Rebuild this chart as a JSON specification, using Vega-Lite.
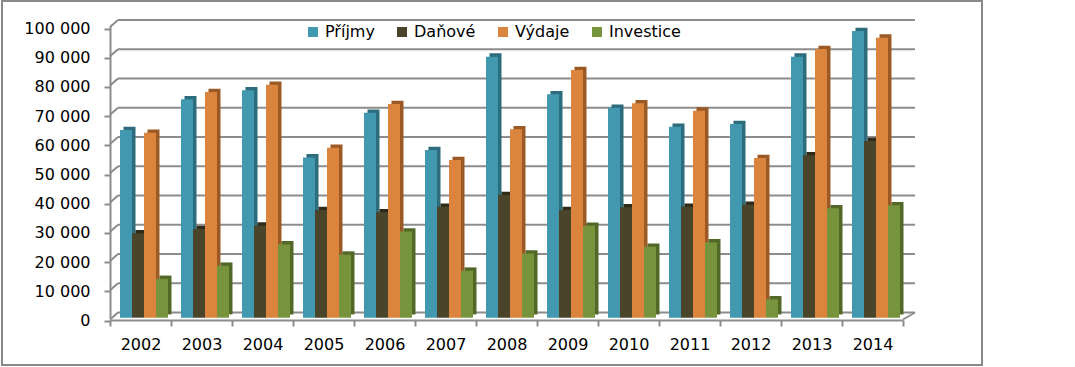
{
  "$schema": "https://vega.github.io/schema/vega-lite/v6.json",
  "width": 980,
  "height": 364,
  "autosize": {"type": "none"},
  "padding": {"left": 2, "top": 1, "right": 93, "bottom": 2},
  "background": "white",
  "config": {"view": {"stroke": "#898989", "strokeWidth": 2}, "font": "DejaVu Sans"},
  "datasets": {
    "bars": [
      {"rok": "2002", "serie": "Příjmy", "hodnota": 64300}, {"rok": "2002", "serie": "Daňové", "hodnota": 28900}, {"rok": "2002", "serie": "Výdaje", "hodnota": 63300}, {"rok": "2002", "serie": "Investice", "hodnota": 13300},
      {"rok": "2003", "serie": "Příjmy", "hodnota": 74800}, {"rok": "2003", "serie": "Daňové", "hodnota": 30400}, {"rok": "2003", "serie": "Výdaje", "hodnota": 77300}, {"rok": "2003", "serie": "Investice", "hodnota": 17800},
      {"rok": "2004", "serie": "Příjmy", "hodnota": 77900}, {"rok": "2004", "serie": "Daňové", "hodnota": 31600}, {"rok": "2004", "serie": "Výdaje", "hodnota": 79800}, {"rok": "2004", "serie": "Investice", "hodnota": 25100},
      {"rok": "2005", "serie": "Příjmy", "hodnota": 54900}, {"rok": "2005", "serie": "Daňové", "hodnota": 36900}, {"rok": "2005", "serie": "Výdaje", "hodnota": 58200}, {"rok": "2005", "serie": "Investice", "hodnota": 21600},
      {"rok": "2006", "serie": "Příjmy", "hodnota": 70200}, {"rok": "2006", "serie": "Daňové", "hodnota": 36100}, {"rok": "2006", "serie": "Výdaje", "hodnota": 73200}, {"rok": "2006", "serie": "Investice", "hodnota": 29500},
      {"rok": "2007", "serie": "Příjmy", "hodnota": 57400}, {"rok": "2007", "serie": "Daňové", "hodnota": 38000}, {"rok": "2007", "serie": "Výdaje", "hodnota": 54000}, {"rok": "2007", "serie": "Investice", "hodnota": 16100},
      {"rok": "2008", "serie": "Příjmy", "hodnota": 89400}, {"rok": "2008", "serie": "Daňové", "hodnota": 42000}, {"rok": "2008", "serie": "Výdaje", "hodnota": 64500}, {"rok": "2008", "serie": "Investice", "hodnota": 22000},
      {"rok": "2009", "serie": "Příjmy", "hodnota": 76500}, {"rok": "2009", "serie": "Daňové", "hodnota": 36900}, {"rok": "2009", "serie": "Výdaje", "hodnota": 84800}, {"rok": "2009", "serie": "Investice", "hodnota": 31500},
      {"rok": "2010", "serie": "Příjmy", "hodnota": 71900}, {"rok": "2010", "serie": "Daňové", "hodnota": 37800}, {"rok": "2010", "serie": "Výdaje", "hodnota": 73400}, {"rok": "2010", "serie": "Investice", "hodnota": 24300},
      {"rok": "2011", "serie": "Příjmy", "hodnota": 65400}, {"rok": "2011", "serie": "Daňové", "hodnota": 38000}, {"rok": "2011", "serie": "Výdaje", "hodnota": 70900}, {"rok": "2011", "serie": "Investice", "hodnota": 25800},
      {"rok": "2012", "serie": "Příjmy", "hodnota": 66300}, {"rok": "2012", "serie": "Daňové", "hodnota": 38700}, {"rok": "2012", "serie": "Výdaje", "hodnota": 54700}, {"rok": "2012", "serie": "Investice", "hodnota": 6300},
      {"rok": "2013", "serie": "Příjmy", "hodnota": 89400}, {"rok": "2013", "serie": "Daňové", "hodnota": 55600}, {"rok": "2013", "serie": "Výdaje", "hodnota": 92000}, {"rok": "2013", "serie": "Investice", "hodnota": 37500},
      {"rok": "2014", "serie": "Příjmy", "hodnota": 98200}, {"rok": "2014", "serie": "Daňové", "hodnota": 60500}, {"rok": "2014", "serie": "Výdaje", "hodnota": 95900}, {"rok": "2014", "serie": "Investice", "hodnota": 38500}
    ],
    "grid": [{"v": 0}, {"v": 10000}, {"v": 20000}, {"v": 30000}, {"v": 40000}, {"v": 50000}, {"v": 60000}, {"v": 70000}, {"v": 80000}, {"v": 90000}, {"v": 100000}],
    "floor": [{"v": 0}]
  },
  "layer": [
    {
      "data": {"name": "grid"},
      "mark": {"type": "rule", "color": "#8c8c8c", "strokeWidth": 2},
      "encoding": {
        "x": {"datum": 0, "type": "quantitative", "scale": {"domain": [0, 1], "range": [116, 913]}, "axis": null},
        "x2": {"datum": 1},
        "y": {"field": "v", "type": "quantitative", "scale": {"domain": [0, 100000], "range": [311.5, 19], "nice": false}, "axis": null}
      }
    },
    {
      "data": {"name": "grid"},
      "mark": {"type": "rule", "color": "#8c8c8c", "strokeWidth": 2, "yOffset": 7},
      "encoding": {
        "x": {"datum": -0.01004, "type": "quantitative", "scale": {"domain": [0, 1], "range": [116, 913]}, "axis": null},
        "x2": {"datum": 0},
        "y": {"field": "v", "type": "quantitative", "scale": {"domain": [0, 100000], "range": [311.5, 19], "nice": false}, "axis": null},
        "y2": {"field": "v"}
      }
    },
    {
      "data": {"name": "floor"},
      "mark": {"type": "rule", "color": "#8c8c8c", "strokeWidth": 2, "yOffset": 7},
      "encoding": {
        "x": {"datum": 0.98494, "type": "quantitative", "scale": {"domain": [0, 1], "range": [116, 913]}, "axis": null},
        "x2": {"datum": 1},
        "y": {"field": "v", "type": "quantitative", "scale": {"domain": [0, 100000], "range": [311.5, 19], "nice": false}, "axis": null},
        "y2": {"field": "v"}
      }
    },
    {
      "data": {"name": "bars"},
      "mark": {"type": "bar", "strokeWidth": 0},
      "encoding": {
        "x": {"field": "rok", "type": "nominal", "scale": {"range": [111.5, 904.5], "paddingInner": 0, "paddingOuter": 0}, "axis": null},
        "xOffset": {"field": "serie", "type": "nominal", "scale": {"domain": ["Příjmy", "Daňové", "Výdaje", "Investice"], "range": [10, 58], "paddingInner": 0, "paddingOuter": 0}},
        "y": {"field": "hodnota", "type": "quantitative", "scale": {"domain": [0, 100000], "range": [313.4, 21.4], "nice": false}, "axis": null},
        "color": {"field": "serie", "type": "nominal", "scale": {"domain": ["Příjmy", "Daňové", "Výdaje", "Investice"], "range": ["#2C6C7D", "#2F2B19", "#9B5A25", "#526829"]}, "legend": null}
      }
    },
    {
      "data": {"name": "bars"},
      "mark": {"type": "bar", "strokeWidth": 0},
      "encoding": {
        "x": {"field": "rok", "type": "nominal", "scale": {"range": [108, 901], "paddingInner": 0, "paddingOuter": 0},
          "axis": {"orient": "bottom", "offset": -45, "tickBand": "extent", "domainColor": "#8c8c8c", "domainWidth": 2, "tickColor": "#8c8c8c", "tickWidth": 2, "tickSize": 6, "labelPadding": 10, "labelAngle": 0, "labelFont": "DejaVu Sans", "labelFontSize": 16, "labelColor": "black", "title": null, "grid": false}},
        "xOffset": {"field": "serie", "type": "nominal", "scale": {"domain": ["Příjmy", "Daňové", "Výdaje", "Investice"], "range": [10, 58], "paddingInner": 0, "paddingOuter": 0}},
        "y": {"field": "hodnota", "type": "quantitative", "scale": {"domain": [0, 100000], "range": [316.7, 24.7], "nice": false},
          "axis": {"orient": "left", "offset": -108, "values": [0, 10000, 20000, 30000, 40000, 50000, 60000, 70000, 80000, 90000, 100000], "labelExpr": "replace(format(datum.value, ',d'), ',', ' ')", "tickOffset": 2.8, "domainColor": "#8c8c8c", "domainWidth": 2, "tickColor": "#8c8c8c", "tickWidth": 2, "tickSize": 6, "labelPadding": 14, "labelFont": "DejaVu Sans", "labelFontSize": 16, "labelColor": "black", "grid": false, "title": null}},
        "color": {"field": "serie", "type": "nominal", "scale": {"domain": ["Příjmy", "Daňové", "Výdaje", "Investice"], "range": ["#4198AF", "#4A452A", "#DB843D", "#77933C"]},
          "legend": {"orient": "none", "direction": "horizontal", "columns": 4, "gridAlign": "none", "legendX": 303, "legendY": 23, "title": null, "symbolType": "square", "symbolSize": 100, "symbolStrokeWidth": 0, "labelFont": "DejaVu Sans", "labelFontSize": 16, "labelColor": "black", "labelOffset": 4, "columnPadding": 19}}
      }
    }
  ],
  "resolve": {"scale": {"x": "independent", "y": "independent", "color": "independent"}}
}
